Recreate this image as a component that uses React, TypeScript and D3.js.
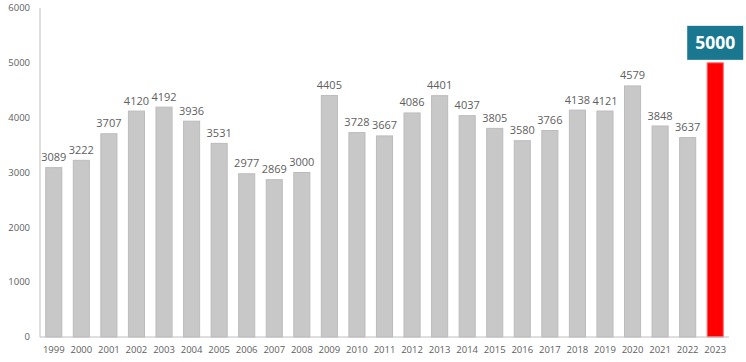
import React from 'react';
import * as d3 from 'd3';

const years = [
  '1999', '2000', '2001', '2002', '2003', '2004', '2005', '2006', '2007', '2008',
  '2009', '2010', '2011', '2012', '2013', '2014', '2015', '2016', '2017', '2018',
  '2019', '2020', '2021', '2022', '2023',
];
const values = [
  3089, 3222, 3707, 4120, 4192, 3936, 3531, 2977, 2869, 3000,
  4405, 3728, 3667, 4086, 4401, 4037, 3805, 3580, 3766, 4138,
  4121, 4579, 3848, 3637, 5000,
];
const yTicks = [0, 1000, 2000, 3000, 4000, 5000, 6000];
const highlightYear = '2023';

const W = 746;
const H = 362;
const margin = { top: 8, right: 17, bottom: 25, left: 40 };

function App(): React.ReactElement {
  const x = d3.scaleBand<string>()
    .domain(years)
    .range([margin.left, W - margin.right])
    .paddingInner(0.38)
    .paddingOuter(0.19);

  const y = d3.scaleLinear()
    .domain([0, 6000])
    .range([H - margin.bottom, margin.top]);

  const font = '"Open Sans", "DejaVu Sans", sans-serif';
  const textColor = '#606060';
  const data = years.map((yr, i) => ({ yr, v: values[i] }));

  return (
    <svg width={W} height={H} style={{ position: 'absolute', left: 0, top: 0 }} fontFamily={font}>
      <rect width={W} height={H} fill="#ffffff" />

      {yTicks.map((t) => (
        <text key={t} x={margin.left - 10} y={y(t)} dy="0.35em" textAnchor="end" fontSize={9.5} fill={textColor}>
          {t}
        </text>
      ))}

      {data.map((d) => {
        const hi = d.yr === highlightYear;
        const bx = x(d.yr) ?? 0;
        const cx = bx + x.bandwidth() / 2;
        return (
          <g key={d.yr}>
            <rect
              x={bx + 0.5}
              y={y(d.v)}
              width={x.bandwidth() - 1}
              height={y(0) - y(d.v)}
              fill={hi ? '#ff0000' : '#c8c8c8'}
              stroke={hi ? '#ff6666' : '#bcbcbc'}
              strokeWidth={1}
            />
            {!hi && (
              <text x={cx} y={y(d.v) - 6.5} textAnchor="middle" fontSize={11} fill={textColor}>
                {d.v}
              </text>
            )}
            <text x={cx} y={H - 9} textAnchor="middle" fontSize={9.5} fill={textColor}>
              {d.yr}
            </text>
            {hi && (
              <g>
                <rect x={cx - 28} y={y(d.v) - 37} width={56} height={34} fill="#19788f" />
                <text x={cx} y={y(d.v) - 20} dy="0.35em" textAnchor="middle" fontSize={17.5} fontWeight="bold" fill="#ffffff">
                  {d.v}
                </text>
              </g>
            )}
          </g>
        );
      })}

      <line x1={margin.left} x2={margin.left} y1={margin.top} y2={y(0)} stroke="#bfbfbf" strokeWidth={1} />
      <line x1={margin.left} x2={W - margin.right} y1={y(0)} y2={y(0)} stroke="#bfbfbf" strokeWidth={1} />
    </svg>
  );
}

export default App;
